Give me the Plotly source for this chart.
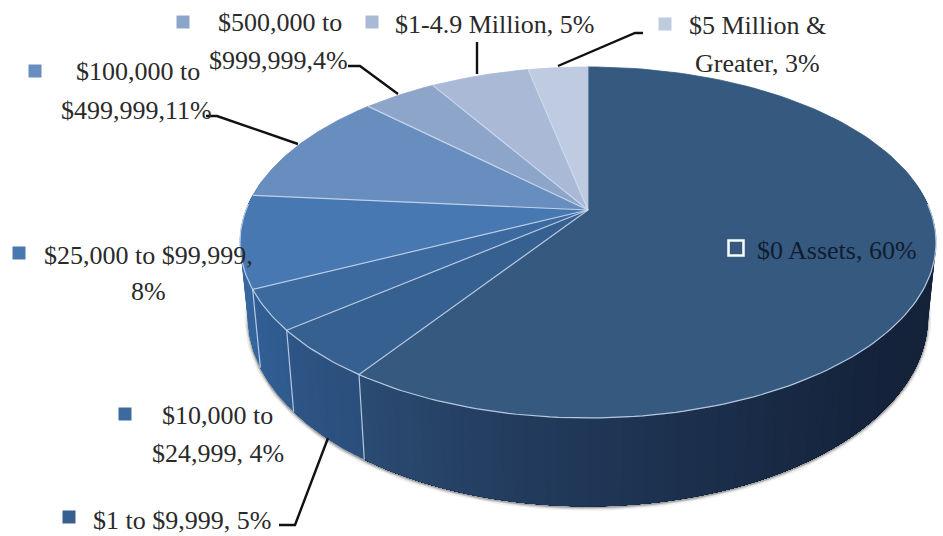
import numpy as np
import plotly.graph_objects as go

categories = ["$0 Assets", "$1 to $9,999", "$10,000 to $24,999", "$25,000 to $99,999",
              "$100,000 to $499,999", "$500,000 to $999,999", "$1-4.9 Million", "$5 Million & Greater"]
values = [59.6, 4.6, 3.7, 8.49, 10.7, 4.1, 5.49, 3.31]
top_colors = ["#35597F", "#36608F", "#3C6A9F", "#4878B1", "#688DBF", "#8EA5CA", "#A9B9D6", "#BFCBE0"]
side_dark = ["#14223A", "#2A4F7C", "#2E5A8E", "#34649C", "#4D76AD", "#7A92BA", "#98A9C9", "#B0BDD6"]
side_light = ["#2C4C74", "#2E5586", "#325F95", "#3A6BA3", "#4D76AD", "#7A92BA", "#98A9C9", "#B0BDD6"]

CX, CY, B, A, K, DEPTH, SHRINK = 588, 210, 342, 169.5, 0.185, 72, 0.977
SEAM = "rgba(205,220,240,0.85)"


def top_pt(theta):
    s, c = np.sin(theta), np.cos(theta)
    w = 1 + K * c
    return CX + B * s / w, CY - A * c / w


def bottom_pt(theta):
    x, y = top_pt(theta)
    w = 1 + K * np.cos(theta)
    return CX + (x - CX) * SHRINK, y + DEPTH / w


def mix(c1, c2, f):
    a = [int(c1[i:i + 2], 16) for i in (1, 3, 5)]
    b = [int(c2[i:i + 2], 16) for i in (1, 3, 5)]
    return "rgb(%d,%d,%d)" % tuple(round(p + (q - p) * f) for p, q in zip(a, b))


def poly(x, y, color, width=0.8):
    return go.Scatter(x=list(x), y=list(y), mode="lines", fill="toself", fillcolor=color,
                      line=dict(color=color, width=width), hoverinfo="skip", showlegend=False)


def stroke(x, y, color, width):
    return go.Scatter(x=list(x), y=list(y), mode="lines", line=dict(color=color, width=width),
                      hoverinfo="skip", showlegend=False)


total = sum(values)
edges = np.concatenate([[0], np.cumsum(values) / total * 2 * np.pi])
traces = []

# soft shadow under the bottom rim
arc = np.linspace(np.radians(82), np.radians(278), 160)
bx, by = bottom_pt(arc)
for width, col in [(7, "rgba(90,90,90,0.10)"), (4, "rgba(90,90,90,0.18)"), (2, "rgba(80,80,80,0.35)")]:
    traces.append(stroke(bx, by + 1, col, width))

# side wall: shading strips, each drawn from its start to the far end of the slice
LO, HI = np.radians(80), np.radians(280)
for i in range(len(values)):
    a0, a1 = max(edges[i], LO), min(edges[i + 1], HI)
    if a1 <= a0:
        continue
    n = max(2, int((a1 - a0) / np.radians(1.5)))
    steps = np.linspace(a0, a1, n + 1)
    for j in range(n):
        f = (j + 0.5) / n
        if i == 0:
            f = np.clip((np.degrees(steps[j]) - 125) / 90, 0, 1) ** 1.4
        t = np.linspace(steps[j], a1, 60)
        tx, ty = top_pt(t)
        ux, uy = bottom_pt(t)
        traces.append(poly(np.r_[tx, ux[::-1]], np.r_[ty, uy[::-1]], mix(side_dark[i], side_light[i], f), 0))

# top face
for i in range(len(values)):
    t = np.linspace(edges[i], edges[i + 1], 120)
    tx, ty = top_pt(t)
    traces.append(poly(np.r_[CX, tx, CX], np.r_[CY, ty, CY], top_colors[i]))

# front rim and seams
t = np.linspace(np.radians(88), np.radians(272), 160)
tx, ty = top_pt(t)
traces.append(stroke(tx, ty, SEAM, 1.2))
for e in edges[1:-1]:
    x, y = top_pt(e)
    traces.append(stroke([CX, x], [CY, y], SEAM, 1.2))
    if np.pi / 2 < e < 3 * np.pi / 2:
        u, v = bottom_pt(e)
        traces.append(stroke([x, u], [y, v], SEAM, 1.2))

# leader lines
leaders = [
    ([348, 360, 398], [66, 66, 94]),
    ([206, 217, 298], [116, 116, 144]),
    ([477, 477], [42, 74]),
    ([643, 635, 558], [33, 33, 66]),
    ([279, 295, 328], [525, 525, 438]),
]
for lx, ly in leaders:
    traces.append(stroke(lx, ly, "#111111", 2.4))

# label keys
key_x = [736, 69, 125, 19, 35, 183, 372, 665]
key_y = [248, 517, 414, 253, 71, 22, 22, 24]
key_colors = ["#35597F", "#36608F", "#3C6A9F", "#4878B1", "#688DBF", "#8EA5CA", "#A9B9D6", "#BFCBE0"]
for i in range(len(key_x)):
    lw = 2.5 if i == 0 else 0
    traces.append(go.Scatter(x=[key_x[i]], y=[key_y[i]], mode="markers", hoverinfo="skip", showlegend=False,
                             marker=dict(symbol="square", size=15 if i == 0 else 13, color=key_colors[i],
                                         line=dict(color="white", width=lw))))

fig = go.Figure(traces)

label_lines = [
    ("$500,000 to", 280, 22), ("$999,999,4%", 278, 60),
    ("$100,000 to", 138, 71), ("$499,999,11%", 136, 110),
    ("$25,000 to $99,999,", 148, 255), ("8%", 148, 291),
    ("$10,000 to", 217, 415), ("$24,999, 4%", 218, 453),
    ("$1 to $9,999, 5%", 182, 520),
    ("$1-4.9 Million, 5%", 494, 24),
    ("$5 Million &", 757, 25), ("Greater, 3%", 757, 63),
    ("$0 Assets, 60%", 837, 250),
]
for text, x, y in label_lines:
    fig.add_annotation(x=x, y=y, xref="x", yref="y", text=text, showarrow=False,
                       xanchor="center", yanchor="middle",
                       font=dict(family="Liberation Serif", size=26,
                                 color="#101C30" if text.startswith("$0") else "#2A2A2A"))

fig.update_layout(width=943, height=536, margin=dict(l=0, r=0, t=0, b=0), showlegend=False,
                  paper_bgcolor="white", plot_bgcolor="white",
                  xaxis=dict(range=[0, 943], visible=False, fixedrange=True),
                  yaxis=dict(range=[536, 0], visible=False, fixedrange=True))
fig.write_html("out.html", config={"displayModeBar": False},
               post_script="document.body.style.margin='0';document.body.style.overflow='hidden';")
